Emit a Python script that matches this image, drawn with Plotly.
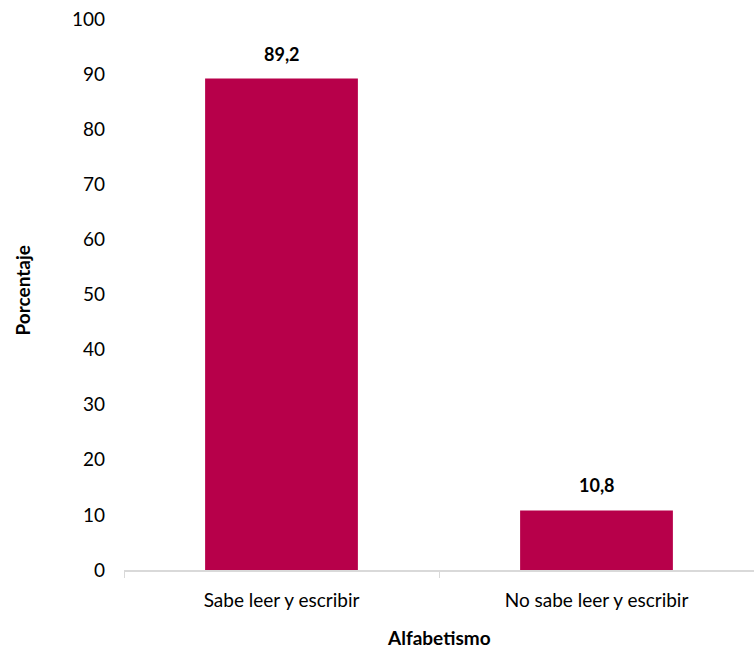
import plotly.graph_objects as go

categories = ["Sabe leer y escribir", "No sabe leer y escribir"]
values = [89.2, 10.8]
y_ticks = [0, 10, 20, 30, 40, 50, 60, 70, 80, 90, 100]

bar_color = "#B7004A"
font_family = "Lato, 'Open Sans', sans-serif"

fig = go.Figure()
fig.add_trace(go.Bar(
    x=categories, y=values, marker_color=bar_color, width=0.485,
    marker_line_width=0,
))
for c, v in zip(categories, values):
    fig.add_annotation(
        x=c, y=v, text="<b>" + f"{v:.1f}".replace(".", ",") + "</b>",
        showarrow=False, yanchor="bottom", yshift=12,
        font=dict(size=18, color="#000000", family=font_family),
    )

fig.add_annotation(
    xref="paper", yref="paper", x=0.5, y=0, yshift=-67,
    text="<b>Alfabetismo</b>", showarrow=False, yanchor="middle",
    font=dict(size=19, color="#000000", family=font_family),
)
fig.add_annotation(
    xref="paper", yref="paper", x=0, y=0.5, xshift=-102, yshift=4,
    text="<b>Porcentaje</b>", showarrow=False, textangle=-90,
    xanchor="center", yanchor="middle",
    font=dict(size=19, color="#000000", family=font_family),
)

fig.update_layout(
    width=754, height=649,
    margin=dict(l=124, r=0, t=19, b=79),
    plot_bgcolor="white", paper_bgcolor="white",
    font=dict(family=font_family, size=19, color="#000000"),
    showlegend=False,
)
fig.update_yaxes(
    range=[0, 100], tickvals=y_ticks, showgrid=False, zeroline=False,
    showline=False, ticks="", ticklabelstandoff=18, automargin=False,
    tickfont=dict(size=19),
)
fig.update_xaxes(
    showline=True, linecolor="#D9D9D9", linewidth=1.5,
    ticks="outside", tickson="boundaries", ticklen=6, tickcolor="#D9D9D9",
    tickfont=dict(size=19), showgrid=False, automargin=False,
    ticklabelstandoff=12,
)

fig.write_html(
    "out.html",
    config={"displayModeBar": False},
    post_script="document.body.style.margin='0';document.body.style.padding='0';",
)
